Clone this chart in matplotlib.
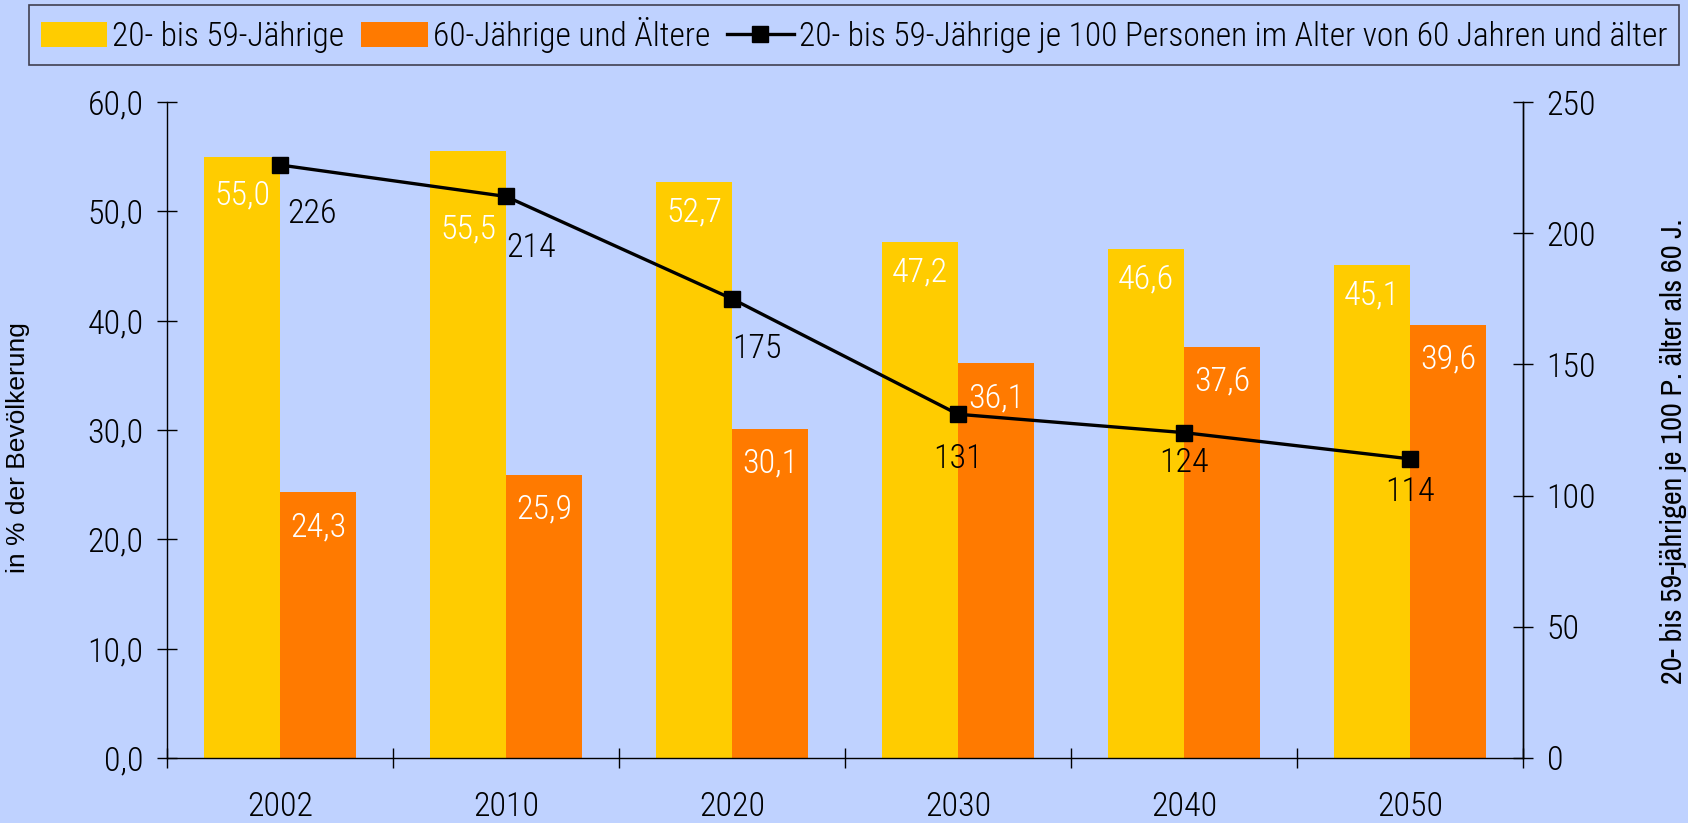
import matplotlib
matplotlib.use("Agg")
import matplotlib.pyplot as plt
import numpy as np
from matplotlib.ticker import FixedLocator, FuncFormatter
from matplotlib.patches import Patch
from matplotlib.lines import Line2D

plt.rcParams['font.family'] = ['Roboto Condensed', 'DejaVu Sans']
plt.rcParams['font.weight'] = 300

years = ["2002", "2010", "2020", "2030", "2040", "2050"]
young = [55.0, 55.5, 52.7, 47.2, 46.6, 45.1]
old = [24.3, 25.9, 30.1, 36.1, 37.6, 39.6]
ratio = [226, 214, 175, 131, 124, 114]
legend_labels = ["20- bis 59-Jährige", "60-Jährige und Ältere",
                 "20- bis 59-Jährige je 100 Personen im Alter von 60 Jahren und älter"]
ylabel_left = "in % der Bevölkerung"
ylabel_right = "20- bis 59-jährigen je 100 P. älter als 60 J."

BG = "#BFD2FF"
YEL = "#FFCC00"
ORA = "#FF7A00"
FS = 24.5

fig = plt.figure(figsize=(16.88, 8.23), dpi=100, facecolor=BG)
ax = fig.add_axes([167/1688, 1-758/823, (1523-167)/1688, (758-102)/823])
ax.set_facecolor(BG)

x = np.arange(len(years))
w = 0.336
ax.bar(x - w/2, young, w, color=YEL, zorder=2)
ax.bar(x + w/2, old, w, color=ORA, zorder=2)

ax.set_xlim(-0.5, len(years) - 0.5)
ax.set_ylim(0, 60)
ax.yaxis.set_major_locator(FixedLocator(np.arange(0, 61, 10)))
ax.yaxis.set_major_formatter(FuncFormatter(lambda v, p: f"{v:.1f}".replace(".", ",")))
ax.set_xticks(x)
ax.set_xticklabels(years)
ax.set_xticks(np.arange(-0.5, len(years), 1.0), minor=True)
ax.tick_params(axis='x', which='major', length=0, pad=24, labelsize=FS)
ax.tick_params(axis='x', which='minor', direction='inout', length=14, width=1)
ax.tick_params(axis='y', direction='inout', length=14, width=1, pad=10, labelsize=FS)
ax.spines['top'].set_visible(False)
for s in ['left', 'bottom', 'right']:
    ax.spines[s].set_linewidth(1.0)
    ax.spines[s].set_color('black')
ax.set_ylabel(ylabel_left, fontsize=19, family=['Liberation Sans', 'DejaVu Sans'], fontweight='normal')
ax.yaxis.set_label_coords(-0.101, 0.473)

young_off = [-28, -56, -22, -22, -22, -22]
for xi, v, dy in zip(x, young, young_off):
    ax.annotate(f"{v:.1f}".replace(".", ","), (xi - w/2, v), xytext=(0, dy),
                textcoords='offset points', ha='center', va='center', color='white', fontsize=FS, zorder=5)
for xi, v in zip(x, old):
    ax.annotate(f"{v:.1f}".replace(".", ","), (xi + w/2, v), xytext=(0, -25),
                textcoords='offset points', ha='center', va='center', color='white', fontsize=FS, zorder=5)

ax2 = ax.twinx()
ax2.set_ylim(0, 250)
ax2.yaxis.set_major_locator(FixedLocator(np.arange(0, 251, 50)))
ax2.tick_params(axis='y', direction='inout', length=14, width=1, pad=10, labelsize=FS)
for s in ['top', 'left', 'bottom']:
    ax2.spines[s].set_visible(False)
ax2.spines['right'].set_linewidth(1.0)
ax2.plot(x, ratio, color='black', lw=2.4, marker='s', markersize=11, zorder=4)
ax2.set_ylabel(ylabel_right, fontsize=21.7, rotation=90, family=['Archivo Narrow', 'DejaVu Sans'], fontweight='normal')
ax2.yaxis.set_label_coords(1.101, 0.468)

offsets = [(23, -35), (18, -37), (18, -36), (0, -32), (0, -22), (0, -24)]
for xi, v, off in zip(x, ratio, offsets):
    ax2.annotate(str(v), (xi, v), xytext=off, textcoords='offset points',
                 ha='center', va='center', color='black', fontsize=FS)

handles = [Patch(facecolor=YEL, edgecolor='none'),
           Patch(facecolor=ORA, edgecolor='none'),
           Line2D([], [], color='black', lw=2.4, marker='s', markersize=11)]
leg = fig.legend(handles, legend_labels, loc='center', ncol=3,
                 bbox_to_anchor=((27+1681)/2/1688, 1-35/823), fontsize=24,
                 frameon=True, fancybox=False, handlelength=2.0, handleheight=0.75,
                 handletextpad=0.15, columnspacing=0.5, borderpad=0.35, borderaxespad=0)
fr = leg.get_frame()
fr.set_facecolor(BG)
fr.set_edgecolor('#404050')
fr.set_linewidth(1.2)
fr.set_alpha(1)

fig.savefig("out.png", dpi=100, facecolor=BG)
